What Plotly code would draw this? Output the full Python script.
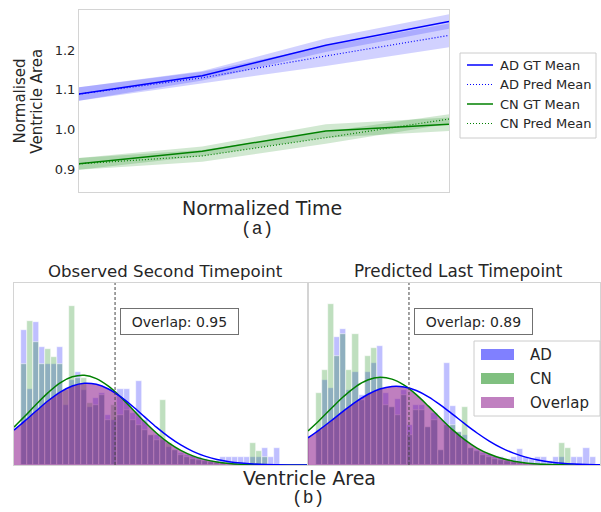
import numpy as np
import plotly.graph_objects as go

W, H = 601, 512

# ---------------- (a) longitudinal means ----------------
time_points = [0.0, 0.333, 0.667, 1.0]
ad_gt_mean = [1.089, 1.135, 1.212, 1.272]
ad_gt_sd = [0.017, 0.012, 0.017, 0.018]
ad_pred_mean = [1.089, 1.130, 1.185, 1.237]
ad_pred_sd = [0.017, 0.015, 0.025, 0.030]
cn_gt_mean = [0.913, 0.945, 0.996, 1.013]
cn_gt_sd = [0.015, 0.012, 0.017, 0.017]
cn_pred_mean = [0.913, 0.933, 0.979, 1.026]
cn_pred_sd = [0.015, 0.015, 0.015, 0.012]
y_ticks = [0.9, 1.0, 1.1, 1.2]
series_names = ["AD GT Mean", "AD Pred Mean", "CN GT Mean", "CN Pred Mean"]

# ---------------- (b) histograms ----------------
# left: observed second timepoint (43 bins)
obs_ad_counts = [135, 76, 143, 118, 101, 101, 118, 60, 85, 93, 75, 58, 67, 72, 50, 45,
                 76, 76, 52, 84, 45, 30, 30, 25, 18, 15, 12, 10, 9, 8, 6, 5, 4, 8, 8,
                 8, 8, 8, 8, 8, 17, 8, 17]
obs_cn_counts = [101, 144, 123, 101, 116, 108, 101, 75, 159, 87, 87, 62, 60, 70, 45, 60,
                 50, 55, 45, 40, 35, 30, 25, 65, 22, 15, 10, 8, 6, 5, 4, 3, 2, 2, 0,
                 2, 0, 0, 22, 14, 8, 0, 0]
obs_curve_x = [-1.66, 0, 2, 4, 6, 8, 10, 12, 14, 16, 18, 20, 22, 24, 26, 28, 30, 32,
               34, 36, 38, 40, 42, 44, 46, 47.1]
obs_ad_pdf = [35.0, 43.5, 54.1, 64.4, 73.1, 79.2, 82.0, 80.9, 76.2, 68.5, 58.9, 48.3,
              37.7, 28.2, 20.1, 13.7, 8.9, 5.5, 3.3, 1.9, 1.0, 0.5, 0.25, 0.1, 0.05, 0.0]
obs_cn_pdf = [38.0, 48.1, 60.7, 72.6, 82.4, 88.4, 90.0, 86.6, 79.0, 68.3, 55.9, 43.3,
              31.8, 22.1, 14.6, 9.1, 5.4, 3.0, 1.6, 0.8, 0.4, 0.2, 0.1, 0.0, 0.0, 0.0]
obs_threshold = 15.1
obs_overlap = 0.95

# right: predicted last timepoint (46 bins)
pred_ad_counts = [35, 85, 77, 128, 136, 75, 93, 70, 93, 102, 119, 72, 58, 66, 75, 40,
                  60, 60, 38, 52, 15, 102, 59, 33, 30, 17, 15, 12, 10, 8, 8, 6, 8, 16,
                  8, 6, 8, 8, 4, 8, 8, 0, 8, 8, 17, 8]
pred_cn_counts = [72, 95, 161, 109, 131, 95, 131, 65, 109, 117, 88, 60, 58, 50, 70, 30,
                  55, 55, 38, 45, 15, 40, 40, 33, 58, 17, 14, 10, 8, 6, 5, 4, 3, 2, 2,
                  1, 0, 0, 0, 2, 22, 17, 0, 0, 0, 0]
pred_curve_x = [-1.81, 0, 2, 4, 6, 8, 10, 12, 14, 16, 18, 20, 22, 24, 26, 28, 30, 32,
                34, 36, 38, 40, 42, 44, 46, 46.22]
pred_ad_pdf = [27.3, 35.0, 44.4, 54.0, 63.1, 70.7, 76.2, 78.8, 78.3, 74.7, 68.4, 60.1,
               50.8, 41.2, 32.1, 24.0, 17.2, 11.9, 7.9, 5.0, 3.1, 1.8, 1.0, 0.5, 0.3, 0.3]
pred_cn_pdf = [34.1, 44.4, 56.6, 68.4, 78.4, 85.2, 88.0, 86.1, 80.0, 70.5, 59.0, 46.8,
               35.2, 25.2, 17.0, 11.0, 6.7, 3.8, 2.1, 1.1, 0.5, 0.25, 0.1, 0.05, 0.0, 0.0]
pred_threshold = 14.8
pred_overlap = 0.89

TXT = "#262626"
FONT = "DejaVu Sans"
FRAME = "#d4d4d4"
DOT = "1px,2px"

fig = go.Figure()

# ---- (a) bands + lines ----
def band(x, m, s, color, xa, ya):
    m = np.array(m); s = np.array(s)
    fig.add_trace(go.Scatter(x=x, y=m + s, mode="lines", line=dict(width=0),
                             showlegend=False, hoverinfo="skip", xaxis=xa, yaxis=ya))
    fig.add_trace(go.Scatter(x=x, y=m - s, mode="lines", line=dict(width=0),
                             fill="tonexty", fillcolor=color, showlegend=False,
                             hoverinfo="skip", xaxis=xa, yaxis=ya))

band(time_points, ad_gt_mean, ad_gt_sd, "rgba(0,0,255,0.18)", "x", "y")
band(time_points, ad_pred_mean, ad_pred_sd, "rgba(0,0,255,0.18)", "x", "y")
band(time_points, cn_gt_mean, cn_gt_sd, "rgba(0,128,0,0.18)", "x", "y")
band(time_points, cn_pred_mean, cn_pred_sd, "rgba(0,128,0,0.18)", "x", "y")

line_styles = [("blue", 1.5, "solid"), ("blue", 1.2, DOT),
               ("green", 1.5, "solid"), ("green", 1.2, DOT)]
for name, vals, (col, lw, dash) in zip(series_names,
                                       [ad_gt_mean, ad_pred_mean, cn_gt_mean, cn_pred_mean],
                                       line_styles):
    fig.add_trace(go.Scatter(x=time_points, y=vals, mode="lines", name=name,
                             line=dict(color=col, width=lw, dash=dash),
                             showlegend=False, xaxis="x", yaxis="y"))

# ---- (b) histograms ----
def hist_panel(ad, cn, cx, ad_pdf, cn_pdf, xa, ya):
    bins_ad = list(range(len(ad)))
    bins_cn = list(range(len(cn)))
    fig.add_trace(go.Bar(x=bins_ad, y=ad, width=1, marker=dict(color="rgba(0,0,255,0.25)",
                         line=dict(color="rgba(255,255,255,0.9)", width=0.6)),
                         showlegend=False, xaxis=xa, yaxis=ya))
    fig.add_trace(go.Bar(x=bins_cn, y=cn, width=1, marker=dict(color="rgba(0,128,0,0.25)",
                         line=dict(color="rgba(255,255,255,0.9)", width=0.6)),
                         showlegend=False, xaxis=xa, yaxis=ya))
    fig.add_trace(go.Scatter(x=cx, y=np.minimum(ad_pdf, cn_pdf), mode="lines",
                             line=dict(width=0, shape="spline"), fill="tozeroy",
                             fillcolor="rgba(128,0,128,0.5)", showlegend=False,
                             hoverinfo="skip", xaxis=xa, yaxis=ya))
    fig.add_trace(go.Scatter(x=cx, y=cn_pdf, mode="lines",
                             line=dict(color="green", width=1.5, shape="spline"),
                             showlegend=False, xaxis=xa, yaxis=ya))
    fig.add_trace(go.Scatter(x=cx, y=ad_pdf, mode="lines",
                             line=dict(color="blue", width=1.5, shape="spline"),
                             showlegend=False, xaxis=xa, yaxis=ya))

hist_panel(obs_ad_counts, obs_cn_counts, obs_curve_x, obs_ad_pdf, obs_cn_pdf, "x2", "y2")
hist_panel(pred_ad_counts, pred_cn_counts, pred_curve_x, pred_ad_pdf, pred_cn_pdf, "x3", "y3")

def dom_x(a, b): return [a / W, b / W]
def dom_y(top, bot): return [1 - bot / H, 1 - top / H]

frame = dict(showline=True, mirror=True, linecolor=FRAME, linewidth=1, showgrid=False,
             zeroline=False, ticks="")

fig.update_layout(
    width=W, height=H, margin=dict(l=0, r=0, t=0, b=0, autoexpand=False),
    paper_bgcolor="white", plot_bgcolor="white",
    font=dict(family=FONT, color=TXT),
    barmode="overlay", bargap=0, showlegend=False,
    xaxis=dict(domain=dom_x(79, 449), range=[0, 1], showticklabels=False, anchor="y", **frame),
    yaxis=dict(domain=dom_y(10, 192), range=[0.842, 1.301], tickvals=y_ticks,
               ticktext=[f"{v:.1f}" for v in y_ticks], tickfont=dict(size=13, color=TXT),
               anchor="x", **frame),
    xaxis2=dict(domain=dom_x(14, 308), range=[-1.66, 47.1], showticklabels=False,
                anchor="y2", **frame),
    yaxis2=dict(domain=dom_y(283, 465), range=[0, 182.5], showticklabels=False,
                anchor="x2", **frame),
    xaxis3=dict(domain=dom_x(308, 600), range=[-1.81, 46.22], showticklabels=False,
                anchor="y3", **frame),
    yaxis3=dict(domain=dom_y(283, 465), range=[0, 182.5], showticklabels=False,
                anchor="x3", **frame),
)

shapes = []
annotations = []
for xa, ya, thr in (("x2", "y2", obs_threshold), ("x3", "y3", pred_threshold)):
    shapes.append(dict(type="line", xref=xa, yref=f"{ya} domain", x0=thr, x1=thr, y0=0, y1=1,
                       line=dict(color="#444444", width=1, dash="3px,2px")))

def P(x, y): return x / W, 1 - y / H

# top legend (manual, matplotlib-like)
x0, y0 = P(460, 53); x1, y1 = P(596, 138)
shapes.append(dict(type="rect", xref="paper", yref="paper", x0=x0, x1=x1, y0=y1, y1=y0,
                   line=dict(color="#cccccc", width=1), fillcolor="white", layer="above"))
for name, (col, lw, dash), cy in zip(series_names, line_styles, [65, 84.5, 104, 123.5]):
    lx0, ly = P(467, cy); lx1, _ = P(493, cy)
    shapes.append(dict(type="line", xref="paper", yref="paper", x0=lx0, x1=lx1, y0=ly, y1=ly,
                       line=dict(color=col, width=lw, dash=dash), layer="above"))
    tx, ty = P(498, cy)
    annotations.append(dict(x=tx, y=ty, xref="paper", yref="paper", text=name,
                            showarrow=False, xanchor="left", yanchor="middle",
                            font=dict(size=13, color=TXT)))

# bottom legend (manual, matplotlib-like patches)
shapes.append(dict(type="rect", xref="paper", yref="paper", x0=474 / W, x1=600 / W,
                   y0=1 - 416 / H, y1=1 - 341 / H, line=dict(color="#cccccc", width=1),
                   fillcolor="rgba(255,255,255,0.85)", layer="above"))
leg_items = [("AD", "#8080ff", 354.5), ("CN", "#80c080", 378.5), ("Overlap", "#c080c0", 402.5)]
for lab, col, cy in leg_items:
    shapes.append(dict(type="rect", xref="paper", yref="paper", x0=481 / W, x1=514 / W,
                       y0=1 - (cy + 5.5) / H, y1=1 - (cy - 5.5) / H,
                       line=dict(width=0), fillcolor=col, layer="above"))
    annotations.append(dict(x=528 / W, y=1 - cy / H, xref="paper", yref="paper", text=lab,
                            showarrow=False, xanchor="left", yanchor="middle",
                            font=dict(size=15, color=TXT)))

def txt(x, y, s, size, family=FONT, angle=0):
    annotations.append(dict(x=x / W, y=1 - y / H, xref="paper", yref="paper", text=s,
                            showarrow=False, xanchor="center", yanchor="middle",
                            textangle=angle, font=dict(size=size, family=family, color=TXT)))

txt(19.5, 101, "Normalised", 15, angle=-90)
txt(36.7, 101, "Ventricle Area", 15, angle=-90)
txt(262, 208, "Normalized Time", 19)
txt(257, 229, "(a)", 18, family="Liberation Mono")
txt(165.5, 271, "Observed Second Timepoint", 16.6)
txt(458, 271, "Predicted Last Timepoint", 16.8)
txt(309, 478, "Ventricle Area", 19)
txt(308, 498, "(b)", 18, family="Liberation Mono")

for cx, val in ((179.5, obs_overlap), (473, pred_overlap)):
    annotations.append(dict(x=cx / W, y=1 - 321.5 / H, xref="paper", yref="paper",
                            text=f"Overlap: {val:.2f}", showarrow=False,
                            xanchor="center", yanchor="middle", width=111, height=19,
                            borderpad=3, bordercolor="#707070", borderwidth=1,
                            bgcolor="white", font=dict(size=14, color=TXT)))

fig.update_layout(shapes=shapes, annotations=annotations)
fig.write_html("out.html", config={"displayModeBar": False},
               post_script="document.body.style.margin='0';document.body.style.overflow='hidden';")
